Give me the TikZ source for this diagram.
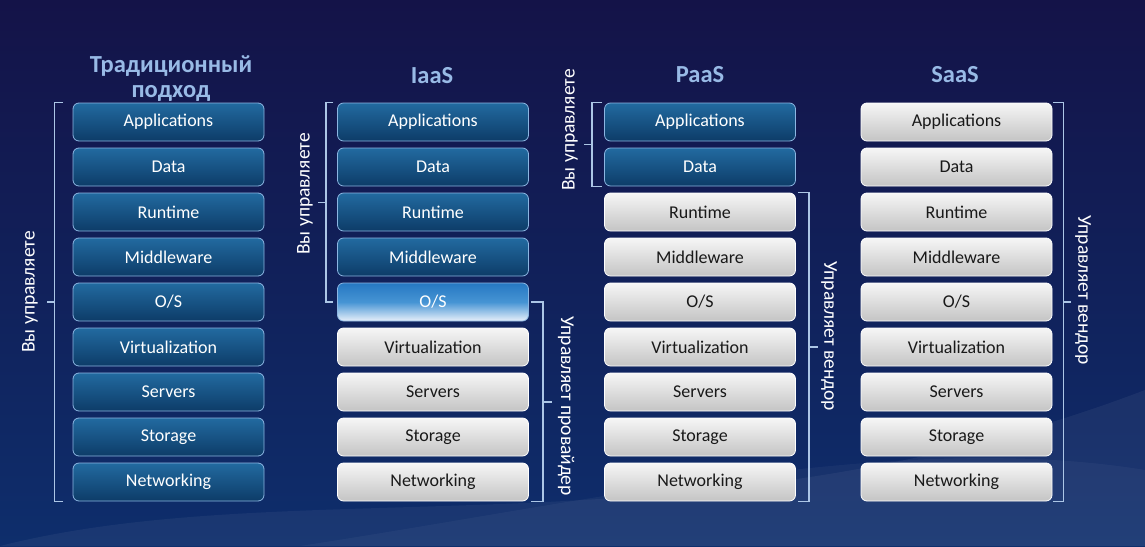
\documentclass[tikz,border=0pt]{standalone}
\usepackage{fontspec}
\setmainfont{Carlito}
\usetikzlibrary{calc}
\definecolor{bgtop}{RGB}{20,19,72}
\definecolor{bgbot}{RGB}{14,46,108}
\definecolor{blutop}{RGB}{34,106,160}
\definecolor{blubot}{RGB}{13,60,104}
\definecolor{bluline}{RGB}{140,182,226}
\definecolor{grytop}{RGB}{246,246,246}
\definecolor{grybot}{RGB}{196,196,196}
\definecolor{ostop}{RGB}{38,120,194}
\definecolor{osmid}{RGB}{70,148,212}
\definecolor{osbot}{RGB}{232,240,250}
\definecolor{hdr}{RGB}{152,186,230}
\definecolor{brkc}{RGB}{172,198,230}
\begin{document}
\begin{tikzpicture}[x=1pt,y=-1pt,
    box/.style={rectangle,rounded corners=6pt,minimum width=191pt,minimum height=38pt,
      inner sep=0pt,line width=0.8pt,font=\fontsize{18}{20}\selectfont},
    blu/.style={box,draw=bluline,top color=blutop,bottom color=blubot,text=white},
    gry/.style={box,draw=white,top color=grytop,bottom color=grybot,text=black!90},
    osb/.style={box,draw=bluline,top color=ostop,bottom color=osbot,middle color=osmid,text=white},
    hd/.style={font=\fontsize{24.5}{25}\selectfont\bfseries,text=hdr,align=center},
    lbl/.style={font=\fontsize{19.5}{20}\selectfont,text=white},
    brk/.style={draw=brkc,line width=1.6pt}]
    % background
    \useasboundingbox (0,0) rectangle (1145,546);
    \fill[top color=bgtop,bottom color=bgbot] (0,0) rectangle (1145,546);
    \fill[white,opacity=0.05] (0,546) .. controls (300,470) and (700,560) .. (1145,390) -- (1145,546) -- cycle;
    \fill[white,opacity=0.04] (300,546) .. controls (600,500) and (900,430) .. (1145,470) -- (1145,546) -- cycle;
    % headers
    \node[hd] (h1) at (171,79) {Традиционный\\подход};
    \node[hd] (h2) at (432,76) {IaaS};
    \node[hd] (h3) at (700,75) {PaaS};
    \node[hd] (h4) at (955,75) {SaaS};
    % traditional
    \node[blu] (a1) at (168.5,122) {Applications};
    \node[blu] (a2) at (168.5,167) {Data};
    \node[blu] (a3) at (168.5,212) {Runtime};
    \node[blu] (a4) at (168.5,257) {Middleware};
    \node[blu] (a5) at (168.5,302) {O/S};
    \node[blu] (a6) at (168.5,347) {Virtualization};
    \node[blu] (a7) at (168.5,392) {Servers};
    \node[blu] (a8) at (168.5,437) {Storage};
    \node[blu] (a9) at (168.5,482) {Networking};
    % iaas
    \node[blu] (b1) at (433,122) {Applications};
    \node[blu] (b2) at (433,167) {Data};
    \node[blu] (b3) at (433,212) {Runtime};
    \node[blu] (b4) at (433,257) {Middleware};
    \node[osb] (b5) at (433,302) {O/S};
    \node[gry] (b6) at (433,347) {Virtualization};
    \node[gry] (b7) at (433,392) {Servers};
    \node[gry] (b8) at (433,437) {Storage};
    \node[gry] (b9) at (433,482) {Networking};
    % paas
    \node[blu] (c1) at (700,122) {Applications};
    \node[blu] (c2) at (700,167) {Data};
    \node[gry] (c3) at (700,212) {Runtime};
    \node[gry] (c4) at (700,257) {Middleware};
    \node[gry] (c5) at (700,302) {O/S};
    \node[gry] (c6) at (700,347) {Virtualization};
    \node[gry] (c7) at (700,392) {Servers};
    \node[gry] (c8) at (700,437) {Storage};
    \node[gry] (c9) at (700,482) {Networking};
    % saas
    \node[gry] (d1) at (956.5,122) {Applications};
    \node[gry] (d2) at (956.5,167) {Data};
    \node[gry] (d3) at (956.5,212) {Runtime};
    \node[gry] (d4) at (956.5,257) {Middleware};
    \node[gry] (d5) at (956.5,302) {O/S};
    \node[gry] (d6) at (956.5,347) {Virtualization};
    \node[gry] (d7) at (956.5,392) {Servers};
    \node[gry] (d8) at (956.5,437) {Storage};
    \node[gry] (d9) at (956.5,482) {Networking};
    % brackets
    \draw[brk] ([xshift=-10pt]a1.north west) -- ++(-8pt,0) |- ([xshift=-10pt]a9.south west);
    \draw[brk] ($(a1.north west)!0.5!(a9.south west)+(-18pt,0)$) -- ++(-8pt,0);
    \draw[brk] ([xshift=-4pt]b1.north west) -- ++(-7pt,0) |- ([xshift=-4pt]b5.west);
    \draw[brk] ($(b1.north west)!0.5!(b5.west)+(-11pt,0)$) -- ++(-8pt,0);
    \draw[brk] ([xshift=2pt]b5.east) -- ++(12pt,0) |- ([xshift=2pt]b9.south east);
    \draw[brk] ($(b5.east)!0.5!(b9.south east)+(14pt,0)$) -- ++(9pt,0);
    \draw[brk] ([xshift=-2pt]c1.north west) -- ++(-10pt,0) |- ([xshift=-2pt]c2.south west);
    \draw[brk] ($(c1.north west)!0.5!(c2.south west)+(-12pt,0)$) -- ++(-8pt,0);
    \draw[brk] ([xshift=2pt]c3.north east) -- ++(11pt,0) |- ([xshift=2pt]c9.south east);
    \draw[brk] ($(c3.north east)!0.5!(c9.south east)+(13pt,0)$) -- ++(9pt,0);
    \draw[brk] ([xshift=1pt]d1.north east) -- ++(10pt,0) |- ([xshift=1pt]d9.south east);
    \draw[brk] ($(d1.north east)!0.5!(d9.south east)+(11pt,0)$) -- ++(8pt,0);
    % bracket labels
    \node[lbl,rotate=90] (u1) at (30,292) {Вы управляете};
    \node[lbl,rotate=90] (u2) at (305,194) {Вы управляете};
    \node[lbl,rotate=-90] (p2) at (566,406) {Управляет провайдер};
    \node[lbl,rotate=90] (u3) at (570,130) {Вы управляете};
    \node[lbl,rotate=-90] (v3) at (829,336) {Управляет вендор};
    \node[lbl,rotate=-90] (v4) at (1083,290) {Управляет вендор};
\end{tikzpicture}
\end{document}
